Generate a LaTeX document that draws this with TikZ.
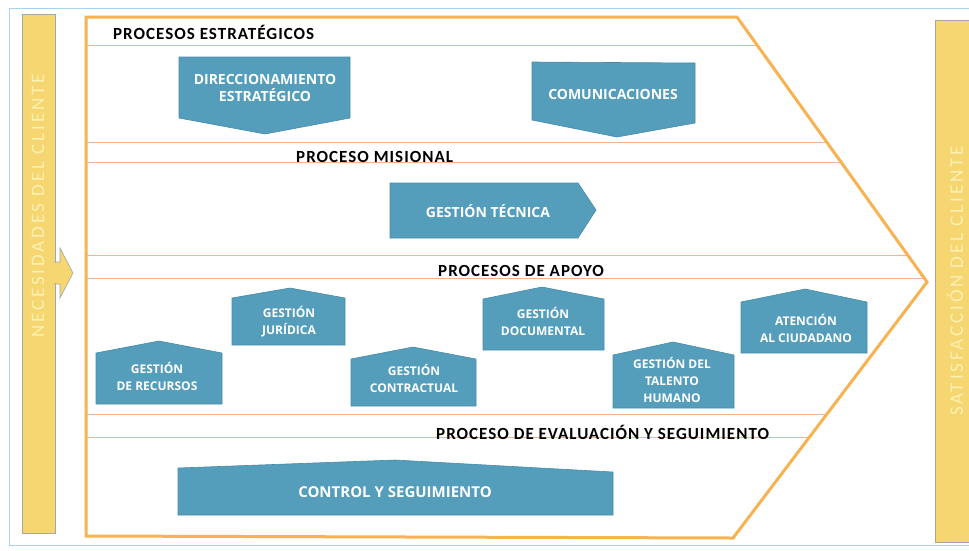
\documentclass[tikz,border=0pt]{standalone}
\usepackage{fontspec}
\setmainfont{Carlito}
\newfontfamily\headfont[LetterSpace=6]{Carlito}
\newfontfamily\boxfont{Open Sans}
\newfontfamily\barfont[LetterSpace=15]{Carlito}
\definecolor{frameorange}{RGB}{247,178,82}
\definecolor{sepline}{RGB}{244,178,146}
\definecolor{procblue}{RGB}{84,157,187}
\definecolor{procedge}{RGB}{70,140,170}
\definecolor{baryellow}{RGB}{246,214,112}
\definecolor{bartext}{RGB}{252,240,178}
\definecolor{outerblue}{RGB}{165,212,236}
\tikzset{
  procshape/.style={fill=procblue,draw=procedge,line width=0.6pt,line join=miter},
  proctext/.style={text=white,inner sep=0pt,align=center,font=\boxfont\bfseries\fontsize{12}{17}\selectfont},
  bigproctext/.style={proctext,font=\boxfont\bfseries\fontsize{14}{17}\selectfont},
  hugeproctext/.style={proctext,font=\boxfont\bfseries\fontsize{15}{17}\selectfont},
  heading/.style={anchor=west,inner sep=0pt,font=\headfont\bfseries\fontsize{17}{19}\selectfont,text=black},
  sepstyle/.style={draw=sepline,line width=0.9pt},
  chevron/.style={draw=frameorange,line width=3pt,line join=miter},
  sidebar/.style={fill=baryellow,draw=gray!70,line width=0.6pt},
  bartextstyle/.style={text=bartext,inner sep=0pt,rotate=90,font=\barfont\fontsize{19}{20}\selectfont}
}
\begin{document}
\begin{tikzpicture}[x=1pt,y=-1pt]
\useasboundingbox (0,0) rectangle (969,550);
\clip (0,0) rectangle (969,550);
\fill[white] (0,0) rectangle (969,550);
% outer frame
\draw[outerblue,line width=1pt] (9,8) rectangle (975,545);
% side bars
\path[sidebar] (22,14) rectangle (55,533);
\path[sidebar] (55,262) -- (60,262) -- (60,248) -- (73,273) -- (60,298) -- (60,284) -- (55,284) -- cycle;
\fill[baryellow] (54,263) rectangle (61,283);
\node[bartextstyle] (needs) at (38,206) {NECESIDADES DEL CLIENTE};
\path[sidebar] (935,20) rectangle (980,542);
\node[bartextstyle] (satis) at (955,281) {SATISFACCIÓN DEL CLIENTE};
% chevron frame
\coordinate (c1) at (86,17);
\coordinate (c2) at (737,17);
\coordinate (c3) at (927,282);
\coordinate (c4) at (733,538);
\coordinate (c5) at (86,536);
% separators
\draw[sepstyle] (86,45) -- (756,45);
\draw[sepstyle] (86,142) -- (826,142);
\draw[sepstyle] (86,162) -- (841,162);
\draw[sepstyle] (86,255) -- (908,255);
\draw[sepstyle] (86,278) -- (924,278);
\draw[sepstyle] (86,414) -- (827,414);
\draw[sepstyle] (86,437) -- (809,437);
\draw[chevron] (c1) -- (c2) -- (c3) -- (c4) -- (c5) -- cycle;
% headings
\node[heading] (hestr) at (113,32) {PROCESOS ESTRATÉGICOS};
\node[heading] (hmis) at (296,157) {PROCESO MISIONAL};
\node[heading] (hapo) at (438,271) {PROCESOS DE APOYO};
\node[heading] (heva) at (436,432) {PROCESO DE EVALUACIÓN Y SEGUIMIENTO};
% strategic
\path[procshape] (179,57) -- (350,57) -- (350,118) -- (265,134) -- (179,118) -- cycle;
\node[bigproctext] (dir) at (265,88) {DIRECCIONAMIENTO\\ESTRATÉGICO};
\path[procshape] (532,62) -- (695,63) -- (695,123) -- (617,137) -- (532,120) -- cycle;
\node[bigproctext] (com) at (613,94) {COMUNICACIONES};
% misional
\path[procshape] (390,183) -- (578,183) -- (596,210) -- (578,238) -- (390,238) -- cycle;
\node[bigproctext] (tec) at (488,211) {GESTIÓN TÉCNICA};
% apoyo
\path[procshape] (96,353) -- (159,341) -- (222,353) -- (222,404) -- (96,404) -- cycle;
\node[proctext] (rec) at (157,376) {GESTIÓN\\DE RECURSOS};
\path[procshape] (232,298) -- (290,288) -- (345,298) -- (345,345) -- (232,345) -- cycle;
\node[proctext] (jur) at (289,322) {GESTIÓN\\JURÍDICA};
\path[procshape] (351,359) -- (413,347) -- (476,359) -- (476,406) -- (351,406) -- cycle;
\node[proctext] (con) at (414,378) {GESTIÓN\\CONTRACTUAL};
\path[procshape] (483,299) -- (542,287) -- (604,299) -- (604,350) -- (483,350) -- cycle;
\node[proctext] (doc) at (543,321) {GESTIÓN\\DOCUMENTAL};
\path[procshape] (613,355) -- (673,342) -- (734,355) -- (734,408) -- (613,408) -- cycle;
\node[proctext] (tal) at (672,380) {GESTIÓN DEL\\TALENTO\\HUMANO};
\path[procshape] (741,302) -- (805,289) -- (867,302) -- (867,353) -- (741,353) -- cycle;
\node[proctext] (ate) at (806,328) {ATENCIÓN\\AL CIUDADANO};
% evaluacion
\path[procshape] (178,468) -- (395,460) -- (613,472) -- (613,515) -- (178,515) -- cycle;
\node[hugeproctext] (ctrl) at (395,492) {CONTROL Y SEGUIMIENTO};
\end{tikzpicture}
\end{document}
